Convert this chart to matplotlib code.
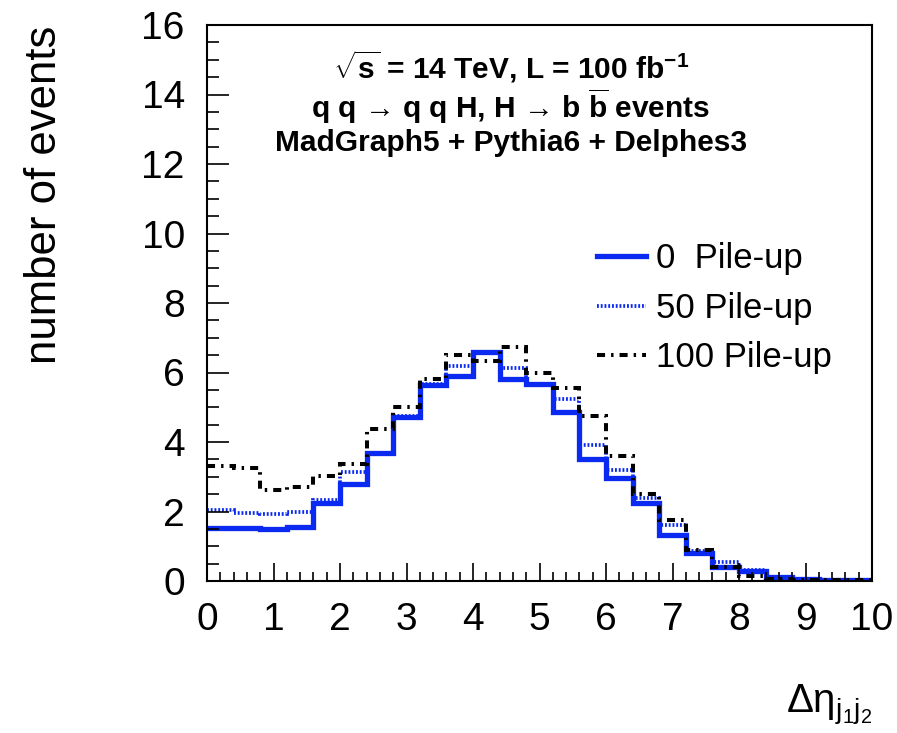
import matplotlib
matplotlib.use("Agg")
import matplotlib.pyplot as plt
from matplotlib.ticker import MultipleLocator
import numpy as np

plt.rcParams['font.family'] = ['Liberation Sans', 'DejaVu Sans']
plt.rcParams['mathtext.fontset'] = 'custom'
plt.rcParams['mathtext.rm'] = 'Liberation Sans'
plt.rcParams['mathtext.it'] = 'Liberation Sans:italic'
plt.rcParams['mathtext.bf'] = 'Liberation Sans:bold'

# delta eta between the two leading jets, 25 bins of 0.4
bin_edges = np.linspace(0, 10, 26)

pu0 = [1.52, 1.53, 1.49, 1.56, 2.25, 2.78, 3.67, 4.71, 5.65, 5.91,
       6.59, 5.80, 5.67, 4.85, 3.52, 2.97, 2.25, 1.33, 0.80, 0.40,
       0.30, 0.11, 0.05, 0.03, 0.03]
pu50 = [2.03, 1.97, 1.94, 1.99, 2.32, 3.15, 3.67, 4.74, 5.68, 6.18,
        6.57, 6.13, 5.67, 5.24, 3.91, 3.19, 2.39, 1.62, 0.85, 0.56,
        0.31, 0.07, 0.04, 0.04, 0.04]
pu100 = [3.30, 3.25, 2.63, 2.71, 3.02, 3.36, 4.37, 5.00, 5.82, 6.49,
         6.32, 6.73, 5.99, 5.55, 4.74, 3.60, 2.49, 1.75, 0.88, 0.40,
         0.14, 0.07, 0.03, 0.03, 0.03]

labels = ['0  Pile-up', '50 Pile-up', '100 Pile-up']

W, H = 897, 733
fig = plt.figure(figsize=(W / 100, H / 100), dpi=100)
ax = fig.add_axes([207 / W, 1 - 581 / H, (872 - 207) / W, (581 - 25) / H])

blue = '#0a2af2'
ax.stairs(pu0, bin_edges, baseline=None, color=blue, lw=3.8, label=labels[0])
ax.stairs(pu50, bin_edges, baseline=None, color=blue, lw=2.7,
          linestyle=(0, (0.5, 0.5)), label=labels[1])
ax.stairs(pu100, bin_edges, baseline=None, color='black', lw=2.9,
          linestyle=(0, (2.0, 1.5, 0.6, 1.5)), label=labels[2])

ax.set_xlim(0, 10)
ax.set_ylim(0, 16)
ax.xaxis.set_major_locator(MultipleLocator(1))
ax.xaxis.set_minor_locator(MultipleLocator(0.2))
ax.yaxis.set_major_locator(MultipleLocator(2))
ax.yaxis.set_minor_locator(MultipleLocator(0.5))
ax.tick_params(which='both', direction='in', top=False, right=False,
               width=1.2, labelsize=28)
ax.tick_params(axis='x', which='major', length=13, pad=15)
ax.tick_params(axis='x', which='minor', length=6.5)
ax.tick_params(axis='y', which='major', length=16, pad=16)
ax.tick_params(axis='y', which='minor', length=8.5)
for sp in ax.spines.values():
    sp.set_linewidth(1.5)

leg = ax.legend(loc='upper left', bbox_to_anchor=(597 / W, 1 - 242 / H),
                bbox_transform=fig.transFigure, frameon=False, fontsize=25,
                handlelength=1.4, handletextpad=0.3, labelspacing=0.48,
                borderpad=0, borderaxespad=0)

header = [r'$\mathbf{\sqrt{s}}$ = 14 TeV, L = 100 fb$^{\mathbf{-1}}$',
          r'q q → q q H, H → b $\mathbf{\overline{b}}$ events',
          'MadGraph5 + Pythia6 + Delphes3']
for txt, yp in zip(header, [67, 106, 143]):
    fig.text(511 / W, 1 - yp / H, txt, ha='center', va='center',
             fontsize=21.5, fontweight='bold')

fig.text(45 / W, 1 - 26 / H, 'number of events', rotation=90,
         ha='center', va='top', fontsize=31.5)
fig.text(872 / W, 1 - 712 / H, r'$\Delta\mathrm{\eta}_{\mathrm{j_{1}j_{2}}}$',
         ha='right', va='baseline', fontsize=29)

fig.savefig('out.png', dpi=100)
